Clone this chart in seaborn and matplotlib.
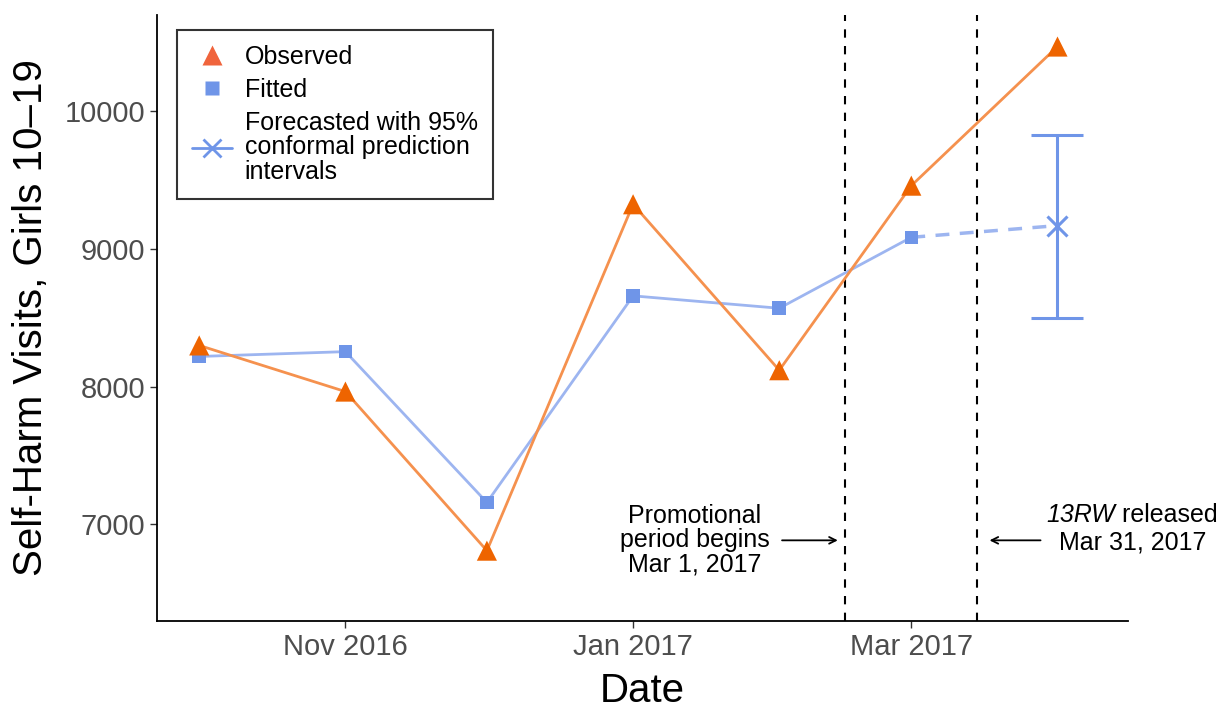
import matplotlib
matplotlib.use('Agg')
import matplotlib.pyplot as plt
from matplotlib.lines import Line2D
import seaborn as sns
import pandas as pd
import numpy as np

# valores
meses = ['2016-10-01', '2016-11-01', '2016-12-01', '2017-01-01',
         '2017-02-01', '2017-03-01', '2017-04-01']
observado = [8300, 7965, 6810, 9325, 8120, 9460, 10470]
ajustado = [8220, 8255, 7160, 8660, 8570, 9085]
previsto = 9170
ic_inf, ic_sup = 8500, 9830

datas = pd.to_datetime(meses)
df_obs = pd.DataFrame({'data': datas, 'valor': observado})
df_fit = pd.DataFrame({'data': datas[:6], 'valor': ajustado})

sns.set_theme(style='white')
plt.rcParams['font.family'] = ['Liberation Sans', 'DejaVu Sans']
plt.rcParams['text.color'] = 'black'
plt.rcParams['axes.labelcolor'] = 'black'

laranja_linha = '#F5914E'
laranja_ponto = '#EE6400'
azul_linha = '#9DB5F0'
azul_ponto = '#6F95E8'

fig = plt.figure(figsize=(12.25, 7.08), dpi=100)
ax = fig.add_axes([0.128, 0.123, 0.793, 0.856])

# linhas verticais (periodo promocional / lancamento)
for d in ['2017-02-15', '2017-03-15']:
    ax.axvline(pd.Timestamp(d), color='black', lw=1.5, ls=(0, (4, 4)), zorder=1)

# ajustado
sns.lineplot(data=df_fit, x='data', y='valor', ax=ax, color=azul_linha, lw=2, zorder=2)
sns.scatterplot(data=df_fit, x='data', y='valor', ax=ax, color=azul_ponto,
                marker='s', s=95, edgecolor='none', zorder=3)
# conexao ajustado -> previsao
ax.plot([datas[5], datas[6]], [ajustado[-1], previsto], color=azul_linha,
        lw=2.5, ls=(0, (4, 3)), zorder=2)
ax.errorbar([datas[6]], [previsto],
            yerr=[[previsto - ic_inf], [ic_sup - previsto]],
            color=azul_ponto, lw=2.2, capsize=19, capthick=2.2,
            marker='x', ms=15, mew=2.2, zorder=4)

# observado
sns.lineplot(data=df_obs, x='data', y='valor', ax=ax, color=laranja_linha, lw=2, zorder=5)
sns.scatterplot(data=df_obs, x='data', y='valor', ax=ax, color=laranja_ponto,
                marker='^', s=210, edgecolor='none', zorder=6)

ax.set_xlim(pd.Timestamp('2016-09-22'), pd.Timestamp('2017-04-16'))
ax.set_ylim(6300, 10700)
ax.set_yticks([7000, 8000, 9000, 10000])
ticks_x = pd.to_datetime(['2016-11-01', '2017-01-01', '2017-03-01'])
ax.set_xticks(ticks_x)
ax.set_xticklabels(['Nov 2016', 'Jan 2017', 'Mar 2017'])
ax.tick_params(axis='both', labelsize=21, labelcolor='#4D4D4D', color='#333333',
               length=5, width=1, direction='out', bottom=True, left=True)
ax.set_xlabel('Date', fontsize=29, labelpad=8, color='black')
ax.set_ylabel('Self-Harm Visits, Girls 10\u201319', fontsize=29, labelpad=10, color='black')

for lado in ['top', 'right']:
    ax.spines[lado].set_visible(False)
for lado in ['left', 'bottom']:
    ax.spines[lado].set_color('black')
    ax.spines[lado].set_linewidth(1.3)

# anotacoes
y_seta = 6885
ax.annotate('', xy=(pd.Timestamp('2017-02-14'), y_seta),
            xytext=(pd.Timestamp('2017-02-01'), y_seta),
            arrowprops=dict(arrowstyle='->', color='black', lw=1.3))
ax.text(pd.Timestamp('2017-01-14'), y_seta, 'Promotional\nperiod begins\nMar 1, 2017',
        ha='center', va='center', fontsize=18, linespacing=1.0, color='black')
ax.annotate('', xy=(pd.Timestamp('2017-03-17'), y_seta),
            xytext=(pd.Timestamp('2017-03-29'), y_seta),
            arrowprops=dict(arrowstyle='->', color='black', lw=1.3))
t13 = ax.text(pd.Timestamp('2017-04-13 06:00'), y_seta + 100, '13RW',
              ha='right', va='bottom', fontsize=18, fontstyle='italic',
              color='black', clip_on=False)
ax.annotate(' released', xy=(1, 0), xycoords=t13, ha='left', va='bottom',
            fontsize=18, color='black', annotation_clip=False)
ax.text(pd.Timestamp('2017-04-17'), y_seta + 70, 'Mar 31, 2017',
        ha='center', va='top', fontsize=18, color='black', clip_on=False)

# legenda
itens = [
    Line2D([], [], ls='none', marker='^', color='#F0643C', ms=14, mec='none'),
    Line2D([], [], ls='none', marker='s', color=azul_ponto, ms=10, mec='none'),
    Line2D([], [], color=azul_ponto, lw=2, marker='x', ms=13, mew=2),
]
nomes = ['Observed', 'Fitted', 'Forecasted with 95%\nconformal prediction\nintervals']
leg = ax.legend(itens, nomes, loc='upper left', bbox_to_anchor=(0.021, 0.975),
                fontsize=18, frameon=True, fancybox=False, edgecolor='black',
                handlelength=1.6, handletextpad=0.5, labelspacing=0.35,
                borderpad=0.6, borderaxespad=0)
leg.get_frame().set_linewidth(1.5)
for t in leg.get_texts():
    t.set_linespacing(1.05)
    t.set_color('black')

fig.savefig('out.png', dpi=100)
